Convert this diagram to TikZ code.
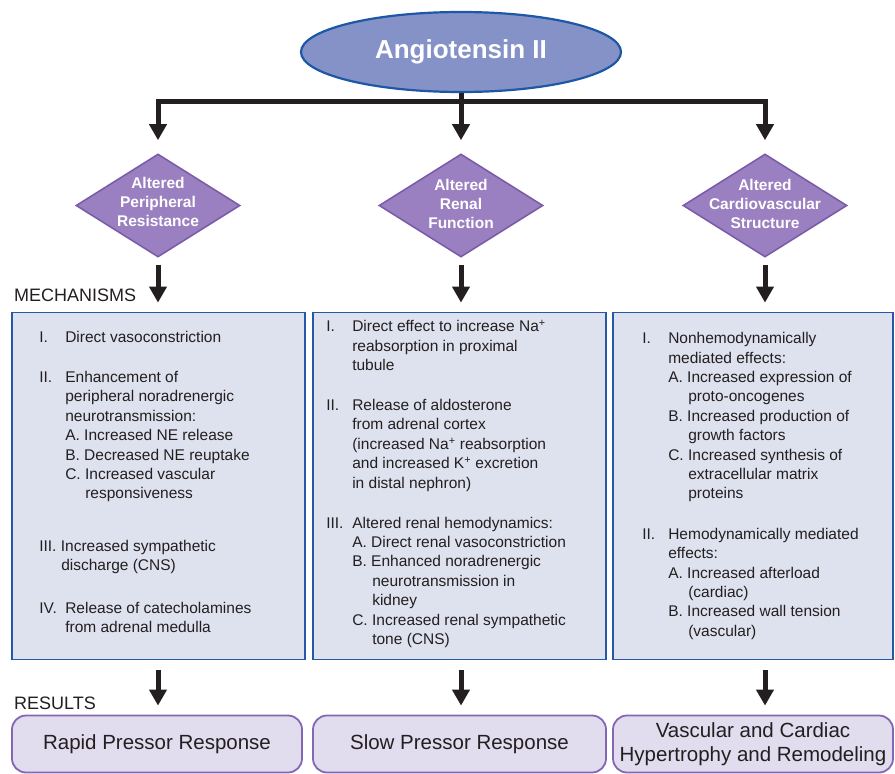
\documentclass[tikz,border=0pt]{standalone}
\usepackage{fontspec}
\setmainfont{Liberation Sans}
\usetikzlibrary{shapes.geometric,arrows.meta,positioning}
\definecolor{ellfill}{HTML}{8592C8}
\definecolor{ellline}{HTML}{1D57A5}
\definecolor{dmdfill}{HTML}{9B80C1}
\definecolor{dmdline}{HTML}{7B5CA9}
\definecolor{boxfill}{HTML}{DEE1EE}
\definecolor{boxline}{HTML}{245AA5}
\definecolor{resfill}{HTML}{E1DCEE}
\definecolor{resline}{HTML}{8466B4}
\definecolor{ink}{HTML}{231F20}
% numeral column and indents for the lists
\newcommand{\rn}[1]{\makebox[26pt][l]{#1}}
\newcommand{\ind}{\hspace*{26pt}}
\newcommand{\sind}{\hspace*{46pt}}

\begin{document}
\begin{tikzpicture}[x=1pt,y=-1pt,
  every node/.style={text=ink},
  ell/.style={ellipse,draw=ellline,fill=ellfill,line width=2.2pt,minimum width=320pt,minimum height=80pt,text=white,font=\bfseries\fontsize{26}{30}\selectfont},
  dmd/.style={diamond,draw=dmdline,fill=dmdfill,line width=1.6pt,minimum width=164pt,minimum height=103pt,inner sep=0pt},
  dtxt/.style={text=white,align=center,inner sep=0pt,font=\bfseries\fontsize{15.5}{19}\selectfont},
  mbox/.style={rectangle,draw=boxline,fill=boxfill,line width=1.8pt,minimum height=347pt},
  mtxt/.style={anchor=west,align=left,inner sep=0pt,font=\fontsize{15.5}{19.4}\selectfont},
  rbox/.style={rectangle,rounded corners=14pt,draw=resline,fill=resfill,line width=1.8pt,minimum height=57pt,align=center,font=\fontsize{20.5}{24}\selectfont},
  lbl/.style={anchor=west,inner sep=0pt,font=\fontsize{18}{20}\selectfont},
  arr/.style={draw=ink,line width=5pt,-{Triangle[width=17pt,length=16pt]}},
]
\useasboundingbox (0,0) rectangle (895,774);

\node[ell] (ang) at (461,52) {Angiotensin II};

\node[dmd] (peri) at (158,205.5) {};
\node[dmd] (renal) at (461,205.5) {};
\node[dmd] (struc) at (765,205.5) {};
\node[dtxt] at (158,202) {Altered\\Peripheral\\Resistance};
\node[dtxt] at (461,204) {Altered\\Renal\\Function};
\node[dtxt] at (765,204) {Altered\\Cardiovascular\\Structure};

\coordinate (bar) at (461,101);
\draw[arr,shorten >=13pt] (bar) -| (peri.north);
\draw[arr,shorten >=13pt] (bar) -| (struc.north);
\draw[arr,shorten >=13pt] (ang.south) -- (renal.north);

\node[lbl] (mech) at (14,295) {MECHANISMS};
\node[lbl] (res) at (14,703) {RESULTS};

% mechanism boxes
\node[mbox,minimum width=293pt] (m1) at (158.5,486) {};
\node[mbox,minimum width=293pt] (m2) at (459.5,486) {};
\node[mbox,minimum width=280pt] (m3) at (753,486) {};

\node[mtxt] at ([xshift=28pt,yshift=4pt]m1.west) {%
\rn{I.}Direct vasoconstriction\\[20.5pt]
\rn{II.}Enhancement of\\
\ind peripheral noradrenergic\\
\ind neurotransmission:\\
\ind A. Increased NE release\\
\ind B. Decreased NE reuptake\\
\ind C. Increased vascular\\
\sind responsiveness\\[33pt]
III. Increased sympathetic\\
\hspace*{22pt}discharge (CNS)\\[23pt]
\rn{IV.}Release of catecholamines\\
\ind from adrenal medulla};

\node[mtxt] at ([xshift=14pt,yshift=2pt]m2.west) {%
\rn{I.}Direct effect to increase Na\textsuperscript{+}\\
\ind reabsorption in proximal\\
\ind tubule\\[20.5pt]
\rn{II.}Release of aldosterone\\
\ind from adrenal cortex\\
\ind (increased Na\textsuperscript{+} reabsorption\\
\ind and increased K\textsuperscript{+} excretion\\
\ind in distal nephron)\\[20.5pt]
\rn{III.}Altered renal hemodynamics:\\
\ind A. Direct renal vasoconstriction\\
\ind B. Enhanced noradrenergic\\
\sind neurotransmission in\\
\sind kidney\\
\ind C. Increased renal sympathetic\\
\sind tone (CNS)};

\node[mtxt] at ([xshift=30pt]m3.west) {%
\rn{I.}Nonhemodynamically\\
\ind mediated effects:\\
\ind A. Increased expression of\\
\sind proto-oncogenes\\
\ind B. Increased production of\\
\sind growth factors\\
\ind C. Increased synthesis of\\
\sind extracellular matrix\\
\sind proteins\\[21pt]
\rn{II.}Hemodynamically mediated\\
\ind effects:\\
\ind A. Increased afterload\\
\sind (cardiac)\\
\ind B. Increased wall tension\\
\sind (vascular)};

% results
\node[rbox,minimum width=290pt] (r1) at (157,744) {Rapid Pressor Response};
\node[rbox,minimum width=293pt] (r2) at (459.5,744) {Slow Pressor Response};
\node[rbox,minimum width=280pt] (r3) at (753,744) {Vascular and Cardiac\\Hypertrophy and Remodeling};

\draw[arr,shorten <=7pt,shorten >=9pt] (peri.south) -- (peri.south |- m1.north);
\draw[arr,shorten <=7pt,shorten >=9pt] (renal.south) -- (renal.south |- m2.north);
\draw[arr,shorten <=7pt,shorten >=9pt] (struc.south) -- (struc.south |- m3.north);
\draw[arr,shorten <=10pt,shorten >=9pt] (peri.south |- m1.south) -- (peri.south |- r1.north);
\draw[arr,shorten <=10pt,shorten >=9pt] (renal.south |- m2.south) -- (renal.south |- r2.north);
\draw[arr,shorten <=10pt,shorten >=9pt] (struc.south |- m3.south) -- (struc.south |- r3.north);
\end{tikzpicture}
\end{document}
